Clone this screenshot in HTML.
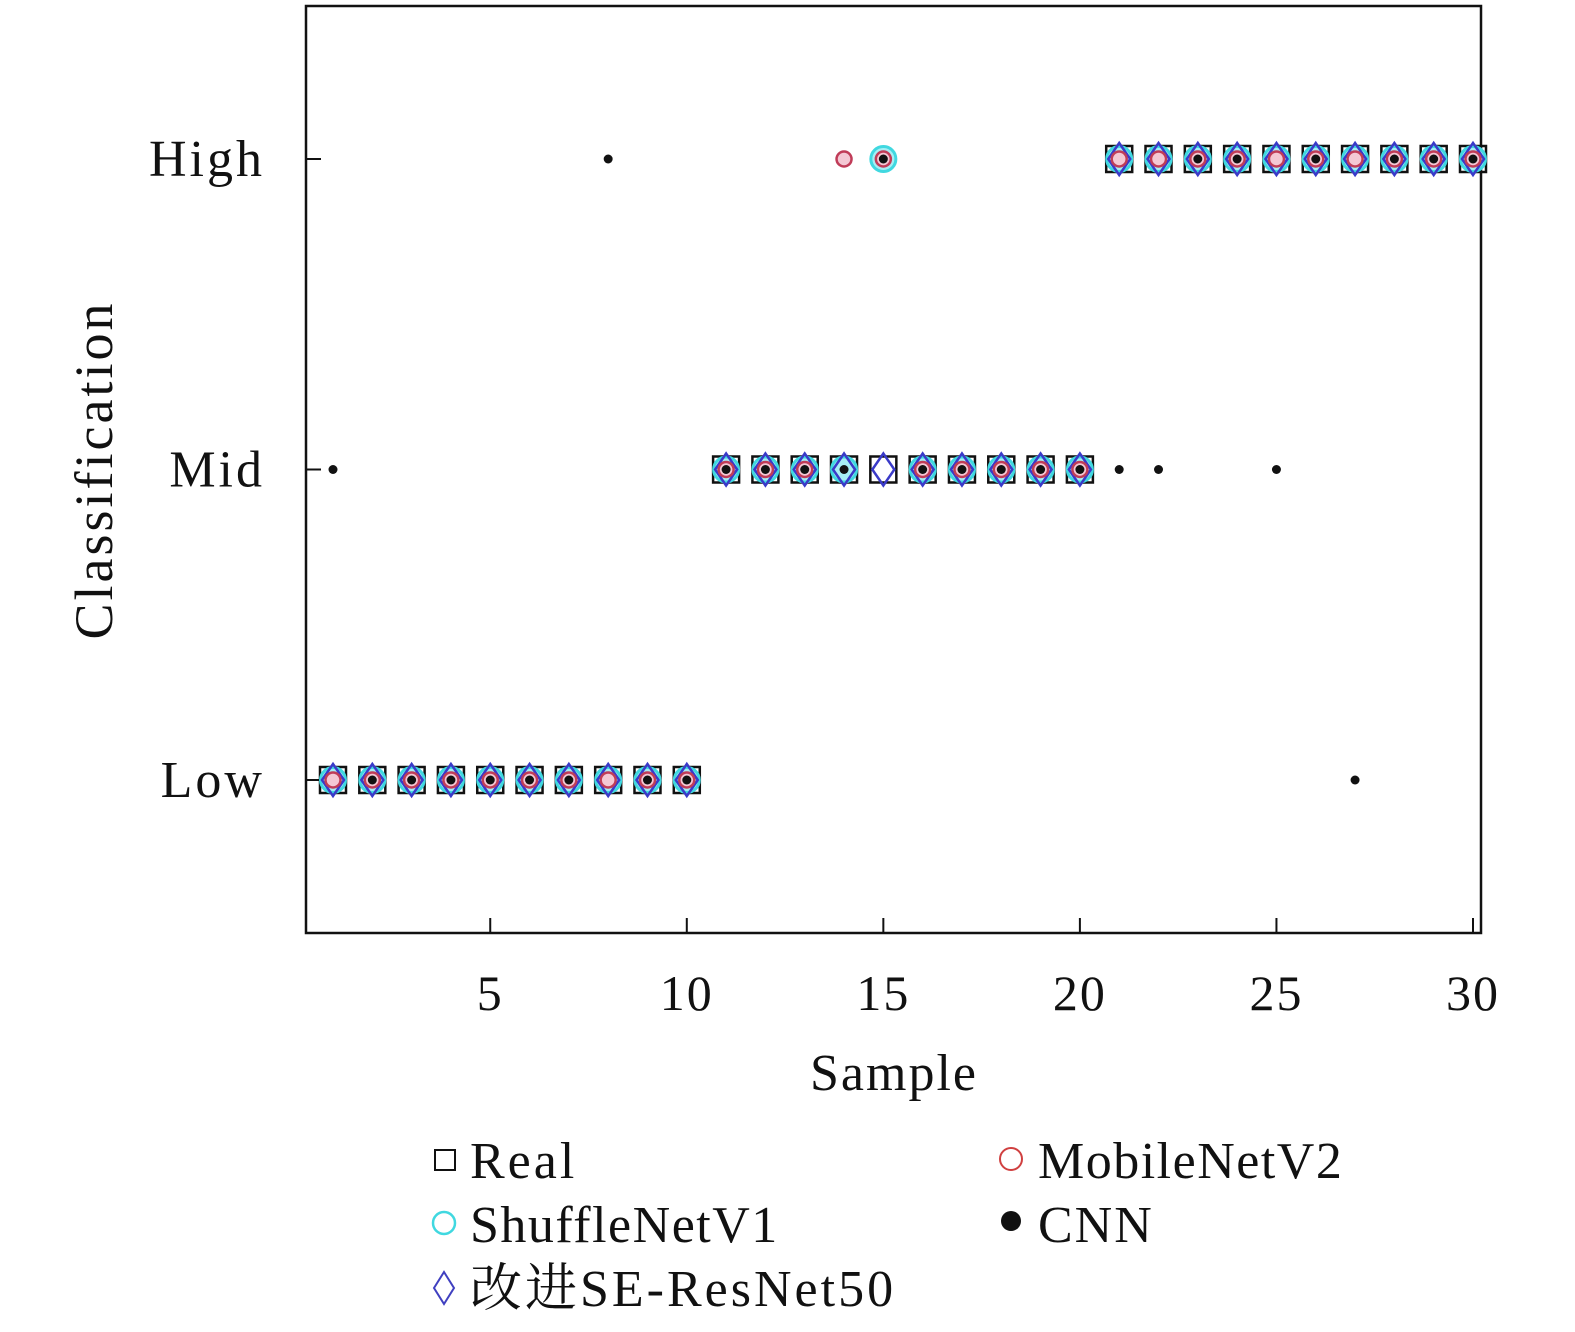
<!DOCTYPE html>
<html><head><meta charset="utf-8"><style>
body{margin:0;background:#fff}
svg text{font-family:"Liberation Serif","Noto Serif CJK SC",serif;fill:#111}
</style></head><body>
<svg id="c" width="1575" height="1327" viewBox="0 0 1575 1327" xmlns="http://www.w3.org/2000/svg">
<rect x="306" y="6" width="1175" height="927" fill="none" stroke="#111" stroke-width="2.5"/>
<g id="ticks"></g><g id="marks"></g>
<text x="894" y="1090" font-size="52" letter-spacing="2" text-anchor="middle">Sample</text>
<text transform="translate(112,470) rotate(-90)" font-size="54" letter-spacing="3" text-anchor="middle">Classification</text>
<g>
<g><rect x="435" y="1150" width="20" height="20" fill="none" stroke="#111" stroke-width="2"/><text x="470" y="1178" font-size="52" letter-spacing="3">Real</text></g>
<g><circle cx="1011" cy="1159" r="11" fill="none" stroke="#d04040" stroke-width="2"/><text x="1038" y="1178" font-size="52" letter-spacing="1.5">MobileNetV2</text></g>
<g><circle cx="444" cy="1223" r="11" fill="none" stroke="#40d8e0" stroke-width="2.5"/><text x="470" y="1242" font-size="52" letter-spacing="1.5">ShuffleNetV1</text></g>
<g><circle cx="1011" cy="1221" r="10" fill="#111"/><text x="1038" y="1242" font-size="52" letter-spacing="2">CNN</text></g>
<g><polygon points="444,1272 454,1288 444,1304 434,1288" fill="none" stroke="#4040c0" stroke-width="2"/><text x="470" y="1306" font-size="52" letter-spacing="3">改进SE-ResNet50</text></g>
</g>
</svg>
<script>
const samples=[1,2,3,4,5,6,7,8,9,10,11,12,13,14,15,16,17,18,19,20,21,22,23,24,25,26,27,28,29,30];
const realVals=[0,0,0,0,0,0,0,0,0,0,1,1,1,1,1,1,1,1,1,1,2,2,2,2,2,2,2,2,2,2];
const seVals=[0,0,0,0,0,0,0,0,0,0,1,1,1,1,1,1,1,1,1,1,2,2,2,2,2,2,2,2,2,2];
const shuffleVals=[0,0,0,0,0,0,0,0,0,0,1,1,1,1,2,1,1,1,1,1,2,2,2,2,2,2,2,2,2,2];
const mobileVals=[0,0,0,0,0,0,0,0,0,0,1,1,1,2,2,1,1,1,1,1,2,2,2,2,2,2,2,2,2,2];
const cnnVals=[1,0,0,0,0,0,0,2,0,0,1,1,1,1,2,1,1,1,1,1,1,1,2,2,1,2,0,2,2,2];
const xTicks=[5,10,15,20,25,30];
const yTicks=[0,1,2];const yLabels=["Low","Mid","High"];
const NS="http://www.w3.org/2000/svg";
const X=v=>333+(v-1)*(1473-333)/29;
const Y=v=>780-v*310.5;
const T=document.getElementById('ticks'),M=document.getElementById('marks');
function mk(tag,at,par){const e=document.createElementNS(NS,tag);for(const k in at)e.setAttribute(k,at[k]);par.appendChild(e);return e;}
xTicks.forEach(t=>{
 const l=mk('line',{x1:X(t),x2:X(t),y1:933,y2:918,stroke:'#111','stroke-width':2},T);
 
 
 const tx=mk('text',{x:X(t),y:1010,'font-size':50,'letter-spacing':2,'text-anchor':'middle'},T);tx.textContent=t;
 
 
});
yTicks.forEach((t,i)=>{
 const l=mk('line',{x1:306,x2:321,y1:Y(t),y2:Y(t),stroke:'#111','stroke-width':2},T);
 
 
 const tx=mk('text',{x:265,y:Y(t)+17,'font-size':52,'letter-spacing':3,'text-anchor':'end'},T);tx.textContent=yLabels[i];
 
 
});
samples.forEach((s,i)=>{
 const x=X(s);
 let y=Y(realVals[i]);
 const r=mk('rect',{x:x-13,y:y-13,width:26,height:26,fill:'none',stroke:'#111','stroke-width':2.5},M);
 
 
 y=Y(shuffleVals[i]);
 const c=mk('circle',{cx:x,cy:y,r:12.5,fill:'#a6eef4',stroke:'#40d8e0','stroke-width':3},M);
 
 
 y=Y(seVals[i]);
 const d=mk('polygon',{points:`${x},${y-16} ${x+11},${y} ${x},${y+16} ${x-11},${y}`,fill:'none',stroke:'#3a3ac8','stroke-width':2.5},M);
 
 
 y=Y(mobileVals[i]);
 const m=mk('circle',{cx:x,cy:y,r:7.5,fill:'#f4c8d4',stroke:'#c03c58','stroke-width':2.5},M);
 
 
 y=Y(cnnVals[i]);
 const n=mk('circle',{cx:x,cy:y,r:4.5,fill:'#111'},M);
 
 
});
</script>
</body></html>
